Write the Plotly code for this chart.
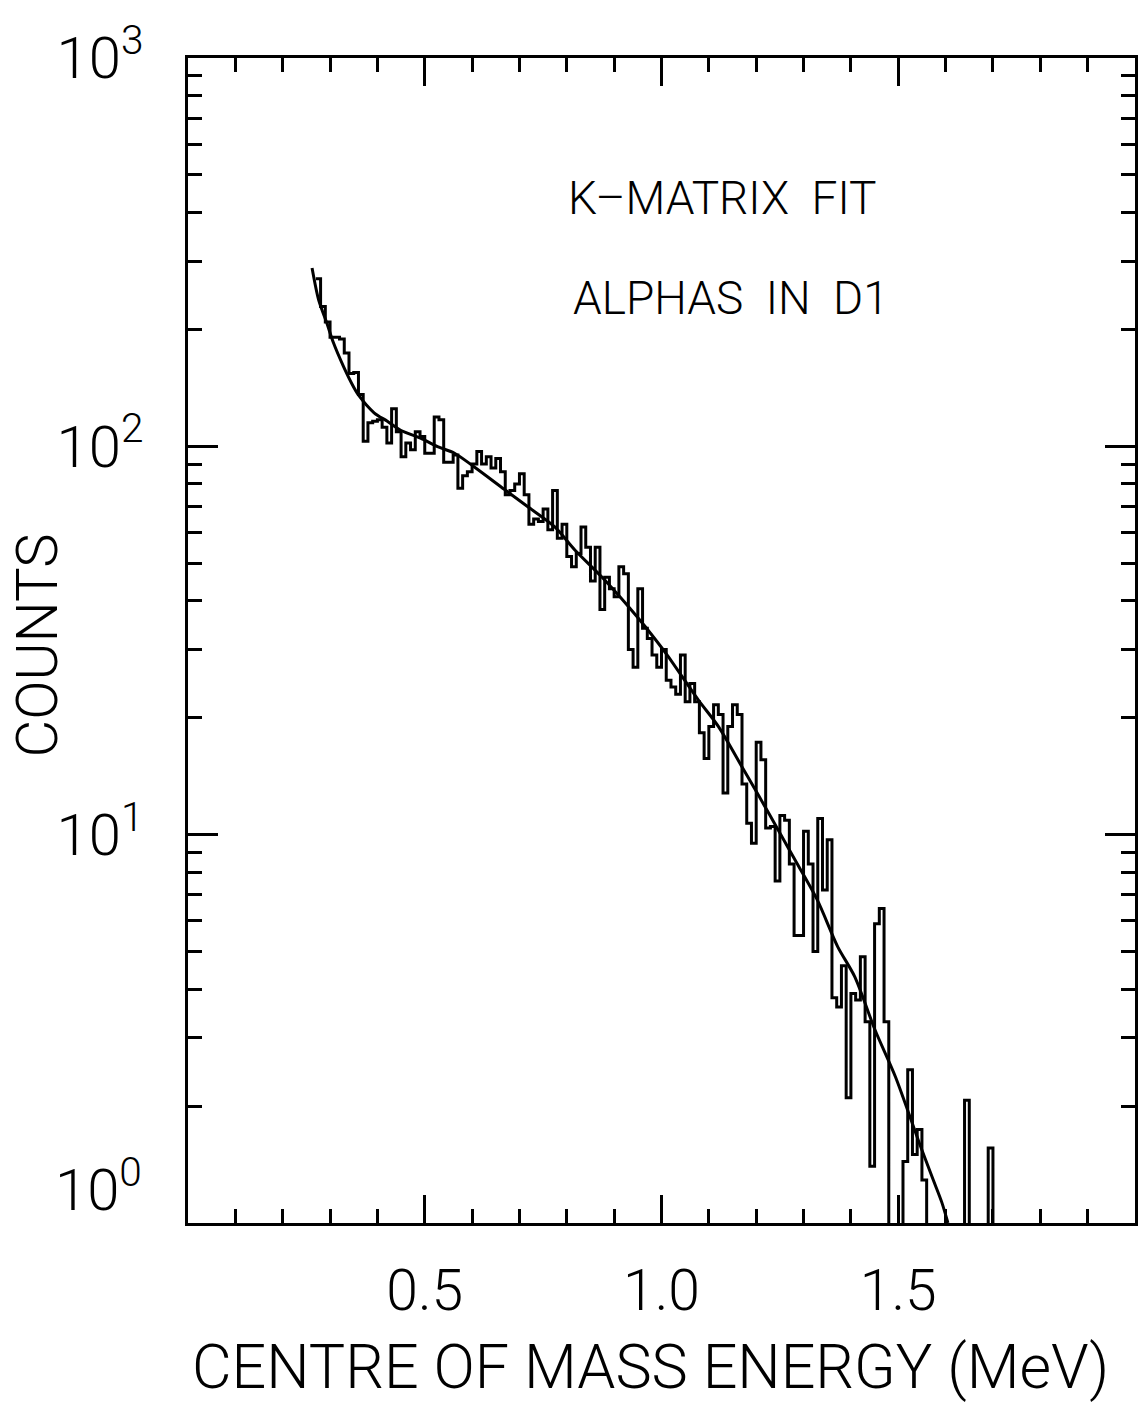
import numpy as np
import plotly.graph_objects as go

# Histogram of alpha counts in detector D1, 0.01 MeV bins (left edges from 0.27 MeV)
bin_start = 0.27
bin_width = 0.01
counts = [
    270, 229, 209, 191, 191, 189, 174, 154, 155, 136,
    103, 115, 116, 117, 112, 102, 125, 109, 94, 102,
    98, 109, 106, 96, 96, 119, 117, 91, 91, 95,
    78, 84, 86, 90, 97, 90, 94, 88, 93, 86,
    75, 77, 80, 85, 75, 63, 65, 64, 69, 61,
    77, 58, 63, 52, 49, 53, 62, 55, 45, 55,
    38, 46, 43, 41, 49, 47, 30, 27, 43, 34,
    32, 29, 27, 30, 25, 24, 23, 29, 22, 24.5,
    22, 18.3, 15.7, 19, 21.6, 20.4, 12.8, 19, 21.6, 20.4,
    13.5, 10.7, 9.5, 17.3, 15.6, 10.4, 10.5, 7.6, 11.2, 10.9,
    8.4, 5.5, 5.5, 10.2, 8.4, 5, 11, 7.2, 9.7, 3.8,
    3.6, 4.6, 2.1, 3.9, 3.75, 4.85, 3.3, 1.4, 5.9, 6.45,
    3.3, 0, 0, 0, 1.44, 2.48, 1.5, 1.74, 1.29, 0,
    0, 0, 0, 0, 0, 0, 0, 2.07, 0, 0,
    0, 0, 1.56, 0,
]

# K-matrix fit curve
fit_energy = [0.262, 0.276, 0.293, 0.307, 0.329, 0.350, 0.361, 0.393, 0.421, 0.449,
              0.491, 0.527, 0.563, 0.604, 0.668, 0.717, 0.774, 0.817, 0.873, 0.930,
              0.965, 1.012, 1.078, 1.120, 1.172, 1.207, 1.250, 1.286, 1.329, 1.372,
              1.408, 1.451, 1.494, 1.545, 1.574, 1.592, 1.605]
fit_counts = [288, 238, 208, 185, 160, 142, 135, 122, 116, 110,
              105, 99.8, 96, 88.6, 77.5, 70, 62.1, 54.1, 46.2, 38.7,
              34.4, 29.0, 22.2, 19.0, 14.8, 12.5, 10.1, 8.44, 6.79, 5.15,
              4.31, 3.14, 2.38, 1.60, 1.29, 1.13, 1.0]

x_ticks = [0.5, 1.0, 1.5]
x_ticktext = ["0.5", "1.0", "1.5"]
y_ticks = [10, 100, 1000]
y_ticktext = ["10<sup>1</sup>", "10<sup>2</sup>", "10<sup>3</sup>"]
y_bottom_label = "10<sup>0</sup>"

FONT = "Roboto"
INK = "black"
W, H = 1139, 1408
ML, MR, MT, MB = 188, 1, 58, 185

# step outline of the histogram; empty bins fall below the log axis floor
edges = bin_start + bin_width * np.arange(len(counts) + 1)
vals = np.array(counts, dtype=float)
vals = np.where(vals > 0, vals, 0.3)
step_x = np.concatenate([edges[:-1], [edges[-1]]])
step_y = np.concatenate([vals, [vals[-1]]])

fig = go.Figure()
fig.add_trace(go.Scatter(
    x=step_x, y=step_y, mode="lines",
    line=dict(color=INK, width=3, shape="hv"),
    hoverinfo="skip", showlegend=False,
))
fig.add_trace(go.Scatter(
    x=fit_energy, y=fit_counts, mode="lines",
    line=dict(color=INK, width=3, shape="spline", smoothing=0.8),
    hoverinfo="skip", showlegend=False,
))

minor_y = [m * 10 ** d for d in range(3) for m in range(2, 10)]


def paper_xy(px, py):
    """Convert page pixels to paper coordinates of the plot area."""
    pw = W - ML - MR
    ph = H - MT - MB
    return (px - ML) / pw, 1 - (py - MT) / ph


labels = [
    # text, page x, page y, size, angle
    ("CENTRE OF MASS ENERGY (MeV)", 652, 1367, 61, 0),
    ("COUNTS", 37, 645, 58, -90),
    ("K\u2013MATRIX  FIT", 724, 198, 46, 0),
    ("ALPHAS  IN  D1", 733, 298, 46, 0),
    (y_bottom_label, 98, 1186, 58, 0),
]
annotations = []
for text, px, py, size, angle in labels:
    ax, ay = paper_xy(px, py)
    annotations.append(dict(
        text=text, x=ax, y=ay, xref="paper", yref="paper",
        xanchor="center", yanchor="middle", showarrow=False, textangle=angle,
        font=dict(family=FONT, size=size, color=INK, weight=300),
    ))

fig.update_layout(
    width=W, height=H,
    margin=dict(l=ML, r=MR, t=MT, b=MB),
    paper_bgcolor="white", plot_bgcolor="white",
    font=dict(family=FONT, color=INK, weight=300),
    xaxis=dict(
        range=[0, 2], showgrid=False, zeroline=False,
        showline=True, linecolor=INK, linewidth=3, mirror="allticks",
        ticks="inside", ticklen=28, tickwidth=2.5, tickcolor=INK,
        tickmode="array", tickvals=x_ticks, ticktext=x_ticktext,
        tickfont=dict(family=FONT, size=57, color=INK, weight=300),
        ticklabelstandoff=16,
        minor=dict(ticks="inside", ticklen=14, tickwidth=2.5, tickcolor=INK,
                   tickmode="linear", tick0=0, dtick=0.1, showgrid=False),
    ),
    yaxis=dict(
        type="log", range=[0, 3], showgrid=False, zeroline=False,
        showline=True, linecolor=INK, linewidth=3, mirror="allticks",
        ticks="inside", ticklen=30, tickwidth=2.5, tickcolor=INK,
        tickmode="array", tickvals=y_ticks, ticktext=y_ticktext,
        tickfont=dict(family=FONT, size=58, color=INK, weight=300),
        ticklabelstandoff=30,
        minor=dict(ticks="inside", ticklen=14, tickwidth=2.5, tickcolor=INK,
                   tickmode="array", tickvals=minor_y, showgrid=False),
    ),
    annotations=annotations,
)

fig.write_html("out.html")
